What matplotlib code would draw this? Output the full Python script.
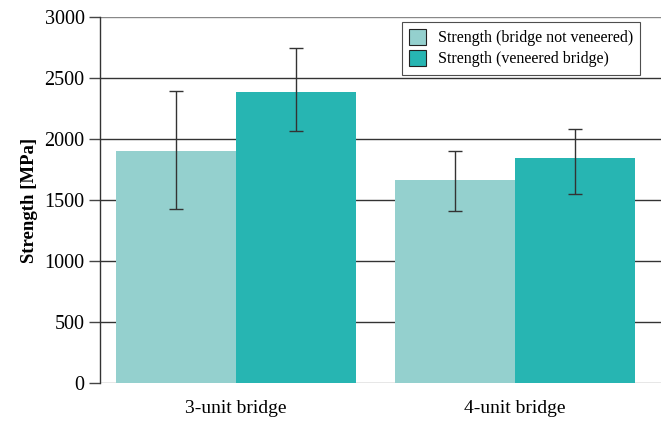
import numpy as np
import matplotlib
matplotlib.use("Agg")
import matplotlib.pyplot as plt
from matplotlib.patches import Patch

plt.rcParams['font.family'] = ['Liberation Serif', 'DejaVu Serif']

# data
groups = ["3-unit bridge", "4-unit bridge"]
series_names = ["Strength (bridge not veneered)", "Strength (veneered bridge)"]
not_veneered = [1898, 1668]
not_veneered_lo = [471, 260]
not_veneered_hi = [496, 233]
veneered = [2383, 1841]
veneered_lo = [321, 290]
veneered_hi = [359, 238]
colors = ["#94d0ce", "#27b5b2"]

fig = plt.figure(figsize=(6.61, 4.23), dpi=100)
ax = fig.add_axes([100 / 661, 40 / 423, 561 / 661, 366 / 423])

x = np.arange(len(groups))
w = 0.43

# horizontal grid lines behind the bars
for yv in range(0, 3001, 500):
    c = "#888888" if yv in (0, 3000) else "#333333"
    ax.axhline(yv, color=c, linewidth=1.0, zorder=0)

err_kw = dict(ecolor="#333333", elinewidth=1.0, capsize=5, capthick=1.0)
ax.bar(x - w / 2, not_veneered, w, yerr=[not_veneered_lo, not_veneered_hi],
       color=colors[0], label=series_names[0], error_kw=err_kw, zorder=2,
       edgecolor="none")
ax.bar(x + w / 2, veneered, w, yerr=[veneered_lo, veneered_hi],
       color=colors[1], label=series_names[1], error_kw=err_kw, zorder=2,
       edgecolor="none")

ax.set_xlim(-0.487, 1.523)
ax.set_ylim(0, 3000)
ax.set_yticks(range(0, 3001, 500))
ax.set_xticks(x)
ax.set_xticklabels(groups)
ax.tick_params(axis="y", labelsize=14.5, length=8, width=1, color="#444444",
               pad=3)
ax.tick_params(axis="x", labelsize=14, length=0, pad=12)

for side in ["top", "right", "bottom"]:
    ax.spines[side].set_visible(False)
ax.spines["left"].set_color("#333333")
ax.spines["left"].set_linewidth(1.0)

ax.set_ylabel("Strength [MPa]", fontsize=13.5, fontweight="bold", labelpad=5)

# legend with square swatches and plain black frame
handles = [Patch(facecolor=c, edgecolor="#222222", linewidth=0.8) for c in colors]
leg = ax.legend(handles, series_names, loc="upper right",
                bbox_to_anchor=(540 / 561, 361 / 366), fontsize=11.5,
                frameon=True, fancybox=False, handlelength=1.1,
                handleheight=1.1, handletextpad=0.7, borderpad=0.45,
                labelspacing=0.25, borderaxespad=0)
leg.get_frame().set_edgecolor("#222222")
leg.get_frame().set_linewidth(0.8)
leg.set_zorder(5)

fig.savefig("out.png", dpi=100)
